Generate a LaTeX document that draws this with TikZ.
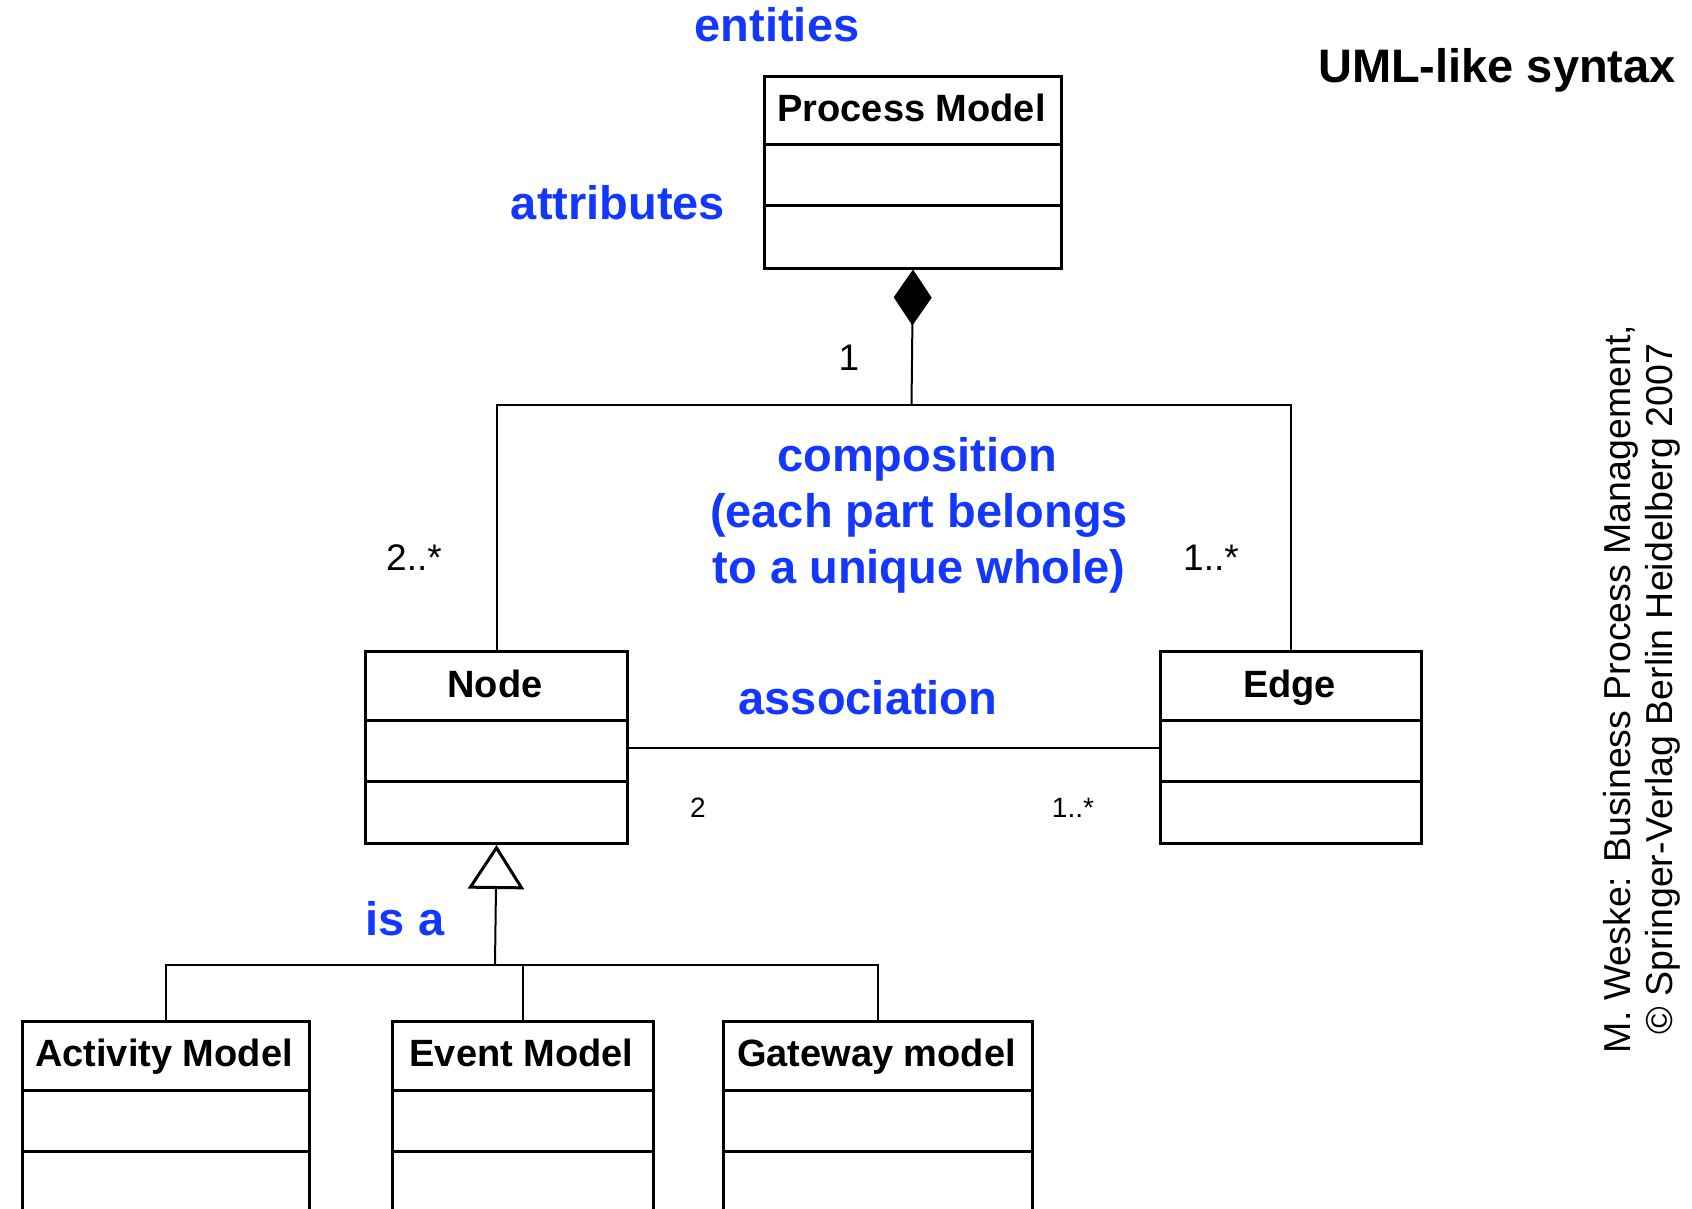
\documentclass[tikz,border=0pt]{standalone}
\usepackage{fontspec}
\setmainfont{Liberation Sans}
\usetikzlibrary{arrows.meta}
\definecolor{lblue}{RGB}{20,55,255}
\begin{document}
\begin{tikzpicture}[x=1pt,y=-1pt,
  classbox/.style={draw, line width=3pt, inner sep=0pt, anchor=north west},
  divider/.style={line width=3pt},
  head/.style={font=\fontsize{38}{42}\selectfont\bfseries, anchor=base, inner sep=0pt},
  bluelbl/.style={text=lblue, font=\fontsize{47}{54}\selectfont\bfseries, anchor=base, inner sep=0pt},
  titlelbl/.style={font=\fontsize{47}{54}\selectfont\bfseries, anchor=base, inner sep=0pt},
  mult/.style={font=\fontsize{37}{40}\selectfont, anchor=base, inner sep=0pt},
  smallmult/.style={font=\fontsize{28}{30}\selectfont, anchor=base, inner sep=0pt},
  conn/.style={line width=2pt}]
\clip (0,0) rectangle (1692,1209);
\fill[white] (0,0) rectangle (1692,1209);

% class boxes
\node[classbox, minimum width=297pt, minimum height=191.5pt] (pm) at (763,75) {};
\draw[divider] (763,145) -- (1060,145) (763,205.5) -- (1060,205.5);
\node[head] (pmt) at (911.5,121.7) {Process Model};

\node[classbox, minimum width=262pt, minimum height=192pt] (nd) at (364,650) {};
\draw[divider] (364,720) -- (626,720) (364,781) -- (626,781);
\node[head] (ndt) at (495,697) {Node};

\node[classbox, minimum width=261pt, minimum height=192pt] (ed) at (1159,650) {};
\draw[divider] (1159,720) -- (1420,720) (1159,781) -- (1420,781);
\node[head] (edt) at (1289.5,697) {Edge};

\node[classbox, minimum width=287pt, minimum height=260pt] (act) at (20.5,1020) {};
\draw[divider] (20.5,1090) -- (307.5,1090) (20.5,1151) -- (307.5,1151);
\node[head] (actt) at (164,1066.7) {Activity Model};

\node[classbox, minimum width=261pt, minimum height=260pt] (evt) at (391,1020) {};
\draw[divider] (391,1090) -- (652,1090) (391,1151) -- (652,1151);
\node[head] (evtt) at (521.5,1066.7) {Event Model};

\node[classbox, minimum width=309pt, minimum height=260pt] (gw) at (722,1020) {};
\draw[divider] (722,1090) -- (1031,1090) (722,1151) -- (1031,1151);
\node[head] (gwt) at (876.5,1066.7) {Gateway model};

% composition
\coordinate (cj) at (911.5,405);
\draw[conn] (nd.north) |- (cj) -| (ed.north);
\draw[conn, -{Diamond[length=56pt, width=38pt]}] (cj) -- (pm.south);

% association
\draw[conn] (nd.east) -- (ed.west);

% generalization
\coordinate (ij) at (495,965);
\draw[conn] (act.north) |- (ij) -| (gw.north);
\draw[conn] (evt.north) -- (evt.north |- ij);
\draw[conn, -{Triangle[open, length=44pt, width=56pt, line width=3pt]}] (ij) -- (nd.south);

% labels
\node[bluelbl] (lent) at (777,42) {entities};
\node[bluelbl] (latt) at (618,220) {attributes};
\node[titlelbl] (luml) at (1497,83) {UML-like syntax};
\node[mult] (m1) at (849,370) {1};
\node[bluelbl] (comp1) at (917,471.6) {composition};
\node[bluelbl] (comp2) at (919,527.7) {(each part belongs};
\node[bluelbl] (comp3) at (919,583.8) {to a unique whole)};
\node[mult] (m2) at (414,570.7) {2..*};
\node[mult] (m3) at (1211,570.7) {1..*};
\node[bluelbl] (lassoc) at (868,714) {association};
\node[smallmult] (m4) at (698,817) {2};
\node[smallmult] (m5) at (1073,817) {1..*};
\node[bluelbl] (lisa) at (405,935.5) {is a};
\node[font=\fontsize{37.5}{42}\selectfont, align=center, rotate=90, inner sep=0pt] (copy) at (1642,689)
  {M. Weske: Business Process Management,\\ \textcopyright\ Springer-Verlag Berlin Heidelberg 2007};
\end{tikzpicture}
\end{document}
